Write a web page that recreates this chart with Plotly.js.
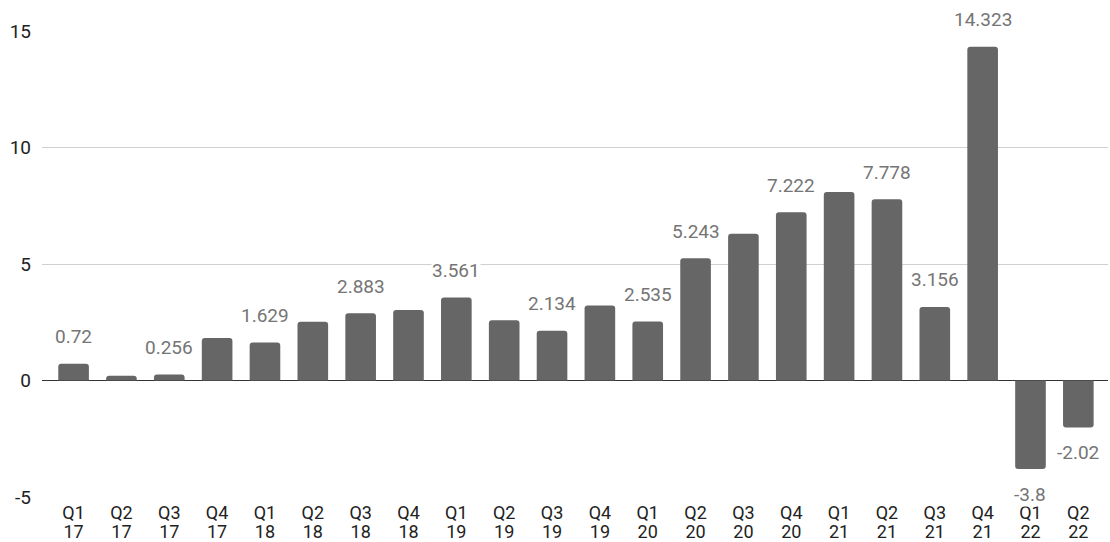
<!DOCTYPE html>
<html>
<head>
<meta charset="utf-8">
<script src="https://cdn.plot.ly/plotly-3.0.1.min.js"></script>
<style>
  html, body { margin: 0; padding: 0; background: #ffffff; }
  #chart { width: 1110px; height: 542px; }
</style>
</head>
<body>
<div id="chart"></div>
<script>
const quarters = ["Q1","Q2","Q3","Q4","Q1","Q2","Q3","Q4","Q1","Q2","Q3","Q4","Q1","Q2","Q3","Q4","Q1","Q2","Q3","Q4","Q1","Q2"];
const years = ["17","17","17","17","18","18","18","18","19","19","19","19","20","20","20","20","21","21","21","21","22","22"];
const values = [0.72, 0.2, 0.256, 1.82, 1.629, 2.52, 2.883, 3.03, 3.561, 2.59, 2.134, 3.22, 2.535, 5.243, 6.30, 7.222, 8.09, 7.778, 3.156, 14.323, -3.8, -2.02];
const labels = ["0.72", "", "0.256", "", "1.629", "", "2.883", "", "3.561", "", "2.134", "", "2.535", "5.243", "", "7.222", "", "7.778", "3.156", "14.323", "-3.8", "-2.02"];
const yTicks = [-5, 0, 5, 10, 15];

const FONT = 'Roboto, Arial, sans-serif';
const FS = 19;
const XFS = 18;
const n = Math.min(quarters.length, years.length, values.length);
const cats = [];
for (let i = 0; i < n; i++) cats.push(quarters[i] + ' ' + years[i]);

const annotations = [];
for (let i = 0; i < n; i++) {
  if (!labels[i]) continue;
  annotations.push({
    x: cats[i], y: values[i], xref: 'x', yref: 'y',
    text: labels[i], showarrow: false,
    xanchor: 'center', yanchor: 'middle',
    yshift: values[i] >= 0 ? 27 : -25,
    bgcolor: '#ffffff', borderpad: 0,
    font: { family: FONT, size: FS, color: '#757575' }
  });
}

const bars = {
  type: 'bar',
  x: cats,
  y: values.slice(0, n),
  width: 0.64,
  marker: { color: '#666666', cornerradius: 3 },
  hoverinfo: 'skip'
};
const yearAxisCarrier = {
  type: 'scatter', mode: 'none',
  x: cats, y: values.slice(0, n),
  xaxis: 'x2', yaxis: 'y',
  hoverinfo: 'skip', showlegend: false
};

const commonX = {
  type: 'category',
  range: [-0.66, n - 1 + 0.62],
  showgrid: false, zeroline: false, showline: false,
  ticks: '', tickangle: 0,
  tickfont: { family: FONT, size: XFS, color: '#222222' },
  fixedrange: true
};

const layout = {
  width: 1110, height: 542,
  margin: { l: 42, r: 2, t: 31, b: 45, pad: 0 },
  paper_bgcolor: '#ffffff', plot_bgcolor: '#ffffff',
  showlegend: false,
  font: { family: FONT, size: FS, color: '#222222' },
  xaxis: Object.assign({}, commonX, {
    tickvals: cats, ticktext: quarters.slice(0, n),
    ticklabelstandoff: 3
  }),
  xaxis2: Object.assign({}, commonX, {
    overlaying: 'x', anchor: 'y', side: 'bottom',
    tickvals: cats, ticktext: years.slice(0, n),
    ticklabelstandoff: 22
  }),
  yaxis: {
    range: [-5, 15],
    tickvals: yTicks,
    ticktext: yTicks.map(String),
    showgrid: true, gridcolor: '#d0d0d0', gridwidth: 1,
    zeroline: true, zerolinecolor: '#333333', zerolinewidth: 1,
    showline: false, ticks: '',
    ticklabelstandoff: 10,
    tickfont: { family: FONT, size: FS, color: '#222222' },
    fixedrange: true
  },
  annotations: annotations,
  hovermode: false
};

Plotly.newPlot('chart', [bars, yearAxisCarrier], layout, { displayModeBar: false, staticPlot: true });
</script>
</body>
</html>
